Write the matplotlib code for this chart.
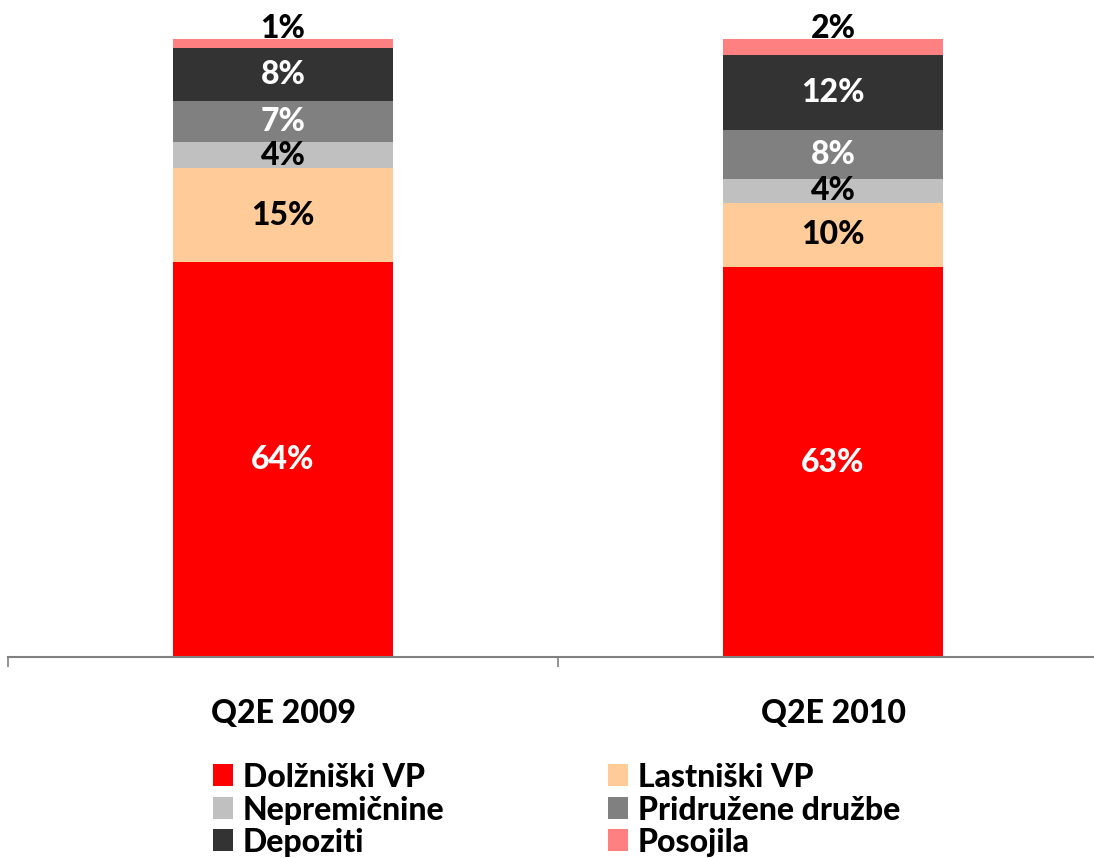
import matplotlib
matplotlib.use("Agg")
import matplotlib.pyplot as plt
from matplotlib.patches import Rectangle
import numpy as np

# data (shares in %, labels as printed)
periods = ["Q2E 2009", "Q2E 2010"]
series = ["Dolžniški VP", "Lastniški VP", "Nepremičnine",
          "Pridružene družbe", "Depoziti", "Posojila"]
dolzniski = [63.9, 63.1]
lastniski = [15.2, 10.4]
nepremicnine = [4.2, 3.9]
pridruzene = [6.6, 7.8]
depoziti = [8.6, 12.2]
posojila = [1.5, 2.6]
labels = [["64%", "63%"], ["15%", "10%"], ["4%", "4%"],
          ["7%", "8%"], ["8%", "12%"], ["1%", "2%"]]

colors = ["#FF0000", "#FFCC99", "#C0C0C0", "#808080", "#333333", "#FF8080"]
label_colors = ["white", "black", "black", "white", "white", "black"]

plt.rcParams['font.family'] = ['Lato', 'DejaVu Sans']
FW = "black"

W, H = 1094, 858
fig = plt.figure(figsize=(W / 100, H / 100), dpi=100)
ax = fig.add_axes([8 / W, 201 / H, 1100 / W, 618 / H])

values = [dolzniski, lastniski, nepremicnine, pridruzene, depoziti, posojila]
x = np.arange(len(periods))
bottom = np.zeros(len(periods))
for vals, labs, name, col, lcol in zip(values, labels, series, colors, label_colors):
    vals = np.array(vals, dtype=float)
    ax.bar(x, vals, 0.4, bottom=bottom, color=col, label=name)
    for xi, v, b, lab in zip(x, vals, bottom, labs):
        if name == "Posojila":
            # thin top segment: label sits above the bar
            ax.annotate(lab, (xi, b + v), xytext=(0, -3), textcoords="offset points",
                        ha="center", va="bottom", fontsize=23, fontweight=FW, color="black")
        else:
            ax.text(xi, b + v / 2, lab, ha="center", va="center",
                    fontsize=23, fontweight=FW, color=lcol)
    bottom += vals

ax.set_xlim(-0.5, 1.5)
ax.set_ylim(0, 100)
for s in ["top", "right", "left"]:
    ax.spines[s].set_visible(False)
ax.spines["bottom"].set_color("#808080")
ax.spines["bottom"].set_linewidth(1.5)
ax.set_yticks([])
ax.set_xticks(x)
ax.set_xticklabels(periods, fontsize=23, fontweight=FW)
ax.tick_params(axis="x", which="major", length=0, pad=30)
ax.set_xticks([-0.5, 0.5, 1.5], minor=True)
ax.tick_params(axis="x", which="minor", length=7, width=1.2, color="#808080")

# legend, two columns, drawn by hand to keep the tight row pitch
col_x = [213, 608]
row_y = [775, 808, 840]
order = [0, 2, 4, 1, 3, 5]
for k, idx in enumerate(order):
    cx = col_x[k // 3]
    cy = row_y[k % 3]
    fig.add_artist(Rectangle((cx / W, 1 - (cy + 11) / H), 20 / W, 22 / H,
                             transform=fig.transFigure, color=colors[idx], lw=0))
    fig.text((cx + 30) / W, 1 - cy / H, series[idx], ha="left", va="center_baseline",
             fontsize=23, fontweight=FW)

fig.savefig("out.png")
